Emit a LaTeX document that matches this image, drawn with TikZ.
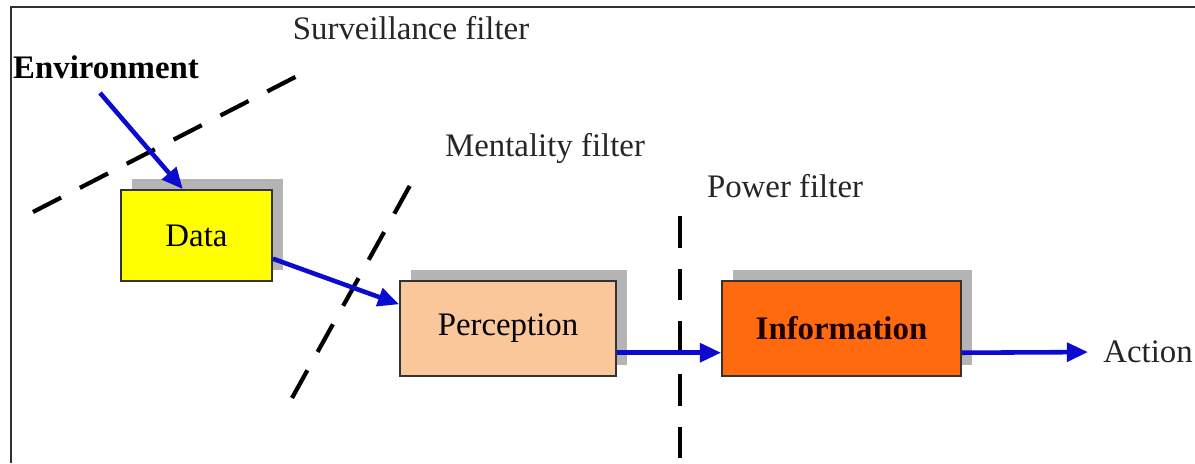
\documentclass[tikz,border=0pt]{standalone}
\usepackage{fontspec}
\setmainfont{Liberation Serif}
\usetikzlibrary{arrows.meta,calc,shadows}

\definecolor{datayellow}{HTML}{FFFF00}
\definecolor{percpeach}{HTML}{F9C79A}
\definecolor{infoorange}{HTML}{FF6A0E}
\definecolor{flowblue}{HTML}{0A0AD0}
\definecolor{shadowgray}{HTML}{B4B4B4}
\definecolor{framegray}{HTML}{303030}

\tikzset{
  px/.style={x=0.02cm,y=-0.02cm},
  stagebox/.style={draw=black!80, line width=1.1pt, inner sep=0pt,
    font=\fontsize{18.7}{22}\selectfont,
    drop shadow={shadow xshift=0.22cm, shadow yshift=0.22cm,
                 fill=shadowgray, opacity=1}},
  label text/.style={inner sep=0pt, text=black!85, font=\fontsize{18.7}{22}\selectfont},
  flow/.style={draw=flowblue, line width=2.6pt,
    -{Triangle[length=12pt,width=10.5pt]}},
  filterline/.style={line width=2.4pt, dash pattern=on 18pt off 12pt}
}

\begin{document}
\begin{tikzpicture}[px]
  \useasboundingbox (0,0) rectangle (1195,463);

  % frame on the top and left sides
  \draw[framegray, line width=1.5pt] (11,463) -- (11,7) -- (1200,7);

  % stages
  \node[stagebox, fill=datayellow, minimum width=3.02cm, minimum height=1.82cm]
    (data) at (196.5,235.5) {Data};
  \node[stagebox, fill=percpeach, minimum width=4.32cm, minimum height=1.9cm]
    (perc) at (508,328.5) {Perception};
  \node[stagebox, fill=infoorange, minimum width=4.78cm, minimum height=1.9cm,
        font=\fontsize{18.7}{22}\selectfont\bfseries, text=black!80!red!60!black]
    (info) at (841.5,328.5) {Information};

  % labels
  \node[label text, font=\fontsize{18.7}{22}\selectfont\bfseries, text=black]
    (env) at (106,67) {Environment};
  \node[label text] (survlbl) at (411,28) {Surveillance filter};
  \node[label text] (mentlbl) at (545,148) {Mentality filter};
  \node[label text] (powlbl) at (785,186) {Power filter};
  \node[label text, anchor=west] (action) at (1103,352) {Action};

  % filters
  \coordinate (s1) at (33,212);  \coordinate (s2) at (305,72);
  \coordinate (m1) at (292,398); \coordinate (m2) at (413,180);
  \coordinate (p1) at (680,216); \coordinate (p2) at (680,470);
  \draw[filterline] (s1) -- (s2);
  \draw[filterline] (m1) -- (m2);
  \draw[filterline] (p1) -- (p2);

  % flow of the data
  \draw[flow] ([xshift=-0.12cm,yshift=-0.28cm]env.south) -- ($(data.north west)!0.41!(data.north east)$);
  \draw[flow] ($(data.north east)!0.75!(data.south east)$) -- ($(perc.north west)!0.25!(perc.south west)$);
  \draw[flow] ($(perc.north east)!0.75!(perc.south east)$) -- ($(info.north west)!0.75!(info.south west)$);
  \draw[flow, shorten >=0.3cm] ($(info.north east)!0.75!(info.south east)$) -- (action.west);
\end{tikzpicture}
\end{document}
